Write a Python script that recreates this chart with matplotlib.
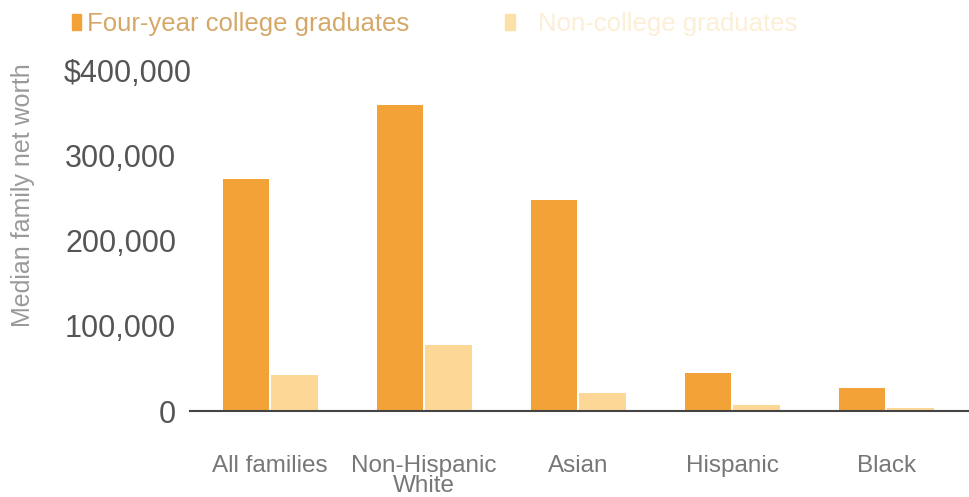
import numpy as np
import matplotlib.pyplot as plt
import matplotlib.transforms as mtransforms

# Data
groups = ['All families', 'Non-Hispanic\nWhite', 'Asian', 'Hispanic', 'Black']
college = [272000, 359000, 247000, 44500, 27000]
non_college = [42000, 77000, 21000, 7000, 4000]
yticks = [0, 100000, 200000, 300000, 400000]
ytick_labels = ['0', '100,000', '200,000', '300,000', '$400,000']

c_college = '#f2a236'
c_noncol = '#fcd796'

plt.rcParams['font.family'] = ['Liberation Sans', 'DejaVu Sans']

fig = plt.figure(figsize=(9.7, 4.97), dpi=100)
ax = fig.add_axes([0.196, 0.173, 0.804, 0.686])

x = np.arange(len(groups))
w = 0.3
ax.bar(x - 0.158, college, width=w, color=c_college, zorder=2)
ax.bar(x + 0.158, non_college, width=w, color=c_noncol, zorder=2)

ax.set_xlim(-0.52, 4.545)
ax.set_ylim(0, 400000)
ax.set_yticks(yticks)
ax.set_yticklabels(ytick_labels, fontsize=22, color='#555555')
ax.set_xticks(x)
ax.set_xticklabels(groups, fontsize=17.5, color='#777777', linespacing=0.85)
ax.tick_params(axis='y', length=0, pad=10)
ax.tick_params(axis='x', length=0, pad=32)

# the top label sits a bit further right in the original
top = ax.get_yticklabels()[-1]
top.set_transform(top.get_transform() + mtransforms.ScaledTranslation(0.15, 0, fig.dpi_scale_trans))

for s in ['top', 'right', 'left']:
    ax.spines[s].set_visible(False)
ax.spines['bottom'].set_color('#444444')
ax.spines['bottom'].set_linewidth(1.5)
ax.spines['bottom'].set_zorder(3)

fig.text(0.024, 0.608, 'Median family net worth', rotation=90, fontsize=18,
         color='#9a9a9a', ha='center', va='center')

# legend drawn at the top
fig.patches.append(plt.Rectangle((0.074, 0.940), 0.0095, 0.032, transform=fig.transFigure,
                                  color=c_college))
fig.text(0.09, 0.952, 'Four-year college graduates', fontsize=18.5, color='#d6a868',
         va='center')
fig.patches.append(plt.Rectangle((0.521, 0.940), 0.0095, 0.032, transform=fig.transFigure,
                                  color='#fbe0a8'))
fig.text(0.555, 0.952, 'Non-college graduates', fontsize=18.5, color='#fcefd6',
         va='center')

fig.savefig('out.png', dpi=100)
